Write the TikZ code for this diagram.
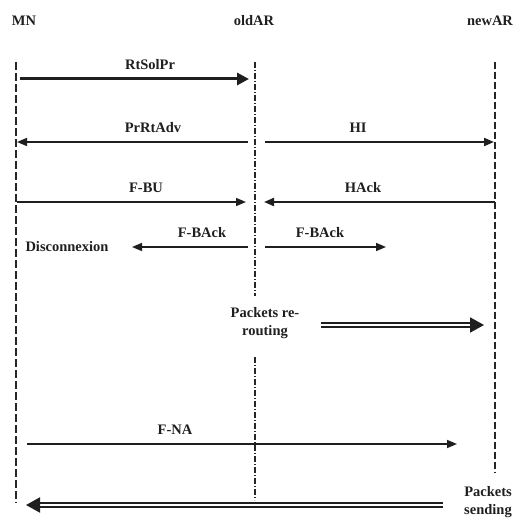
\documentclass[tikz,border=0pt]{standalone}
\usepackage{fontspec}
\setmainfont{Liberation Serif}
\usetikzlibrary{arrows.meta}
\begin{document}
\begin{tikzpicture}[x=1pt,y=-1pt,
  lbl/.style={font=\bfseries\fontsize{14.5}{18}\selectfont, inner sep=0pt, text=black!88},
  msg/.style={line width=1.6pt, draw=black!88, -{Triangle[length=10pt,width=8pt]}},
  thickmsg/.style={line width=3pt, draw=black!88, -{Triangle[length=12pt,width=12pt]}},
  dblmsg/.style={double=white, double distance=2pt, line width=2pt, draw=black!88, -{Triangle[length=14pt,width=15pt]}},
  lifeA/.style={line width=1.6pt, draw=black!85, dash pattern=on 8pt off 3pt},
  lifeB/.style={line width=1.1pt, draw=black!85, dash pattern=on 6pt off 2pt on 1pt off 2pt},
  lifeC/.style={line width=1.1pt, draw=black!85, dash pattern=on 7pt off 3pt}]
\useasboundingbox (0,0) rectangle (517,518);
% headers
\node[lbl] (mn) at (24,21) {MN};
\node[lbl] (old) at (254,21) {oldAR};
\node[lbl] (new) at (490,21) {newAR};
% lifeline coordinates
\coordinate (mnT) at (16,62);
\coordinate (mnB) at (16,503);
\coordinate (oldT) at (255,62);
\coordinate (oldM1) at (255,296);
\coordinate (oldM2) at (255,357);
\coordinate (oldB) at (255,500);
\coordinate (newT) at (495,62);
\coordinate (newB) at (495,473);
\draw[lifeA] (mnT) -- (mnB);
\draw[lifeB] (oldT) -- (oldM1);
\draw[lifeB] (oldM2) -- (oldB);
\draw[lifeC] (newT) -- (newB);
% message endpoints
\coordinate (a1) at (20,79);   \coordinate (a2) at (249,79);
\coordinate (b1) at (248,142); \coordinate (b2) at (17,142);
\coordinate (c1) at (265,142); \coordinate (c2) at (494,142);
\coordinate (d1) at (17,202);  \coordinate (d2) at (246,202);
\coordinate (e1) at (495,202); \coordinate (e2) at (264,202);
\coordinate (f1) at (248,247); \coordinate (f2) at (132,247);
\coordinate (g1) at (265,247); \coordinate (g2) at (386,247);
\coordinate (h1) at (321,325); \coordinate (h2) at (484,325);
\coordinate (i1) at (27,444);  \coordinate (i2) at (457,444);
\coordinate (j1) at (443,505); \coordinate (j2) at (26,505);
% messages
\draw[thickmsg] (a1) -- (a2);
\draw[msg] (b1) -- (b2);
\draw[msg, line width=2pt] (c1) -- (c2);
\draw[msg] (d1) -- (d2);
\draw[msg, line width=2pt] (e1) -- (e2);
\draw[msg] (f1) -- (f2);
\draw[msg] (g1) -- (g2);
\draw[dblmsg] (h1) -- (h2);
\draw[msg] (i1) -- (i2);
\draw[dblmsg] (j1) -- (j2);
% labels
\node[lbl] (la) at (150,65) {RtSolPr};
\node[lbl] (lb) at (153,128) {PrRtAdv};
\node[lbl] (lc) at (358,128) {HI};
\node[lbl] (ld) at (146,188) {F-BU};
\node[lbl] (le) at (363,188) {HAck};
\node[lbl] (lf) at (202,233) {F-BAck};
\node[lbl] (lg) at (320,233) {F-BAck};
\node[lbl] (disc) at (67,247) {Disconnexion};
\node[lbl, align=center] (rr) at (265,323) {Packets re-\\routing};
\node[lbl] (li) at (175,430) {F-NA};
\node[lbl, align=center] (ps) at (488,502) {Packets\\sending};
\end{tikzpicture}
\end{document}
